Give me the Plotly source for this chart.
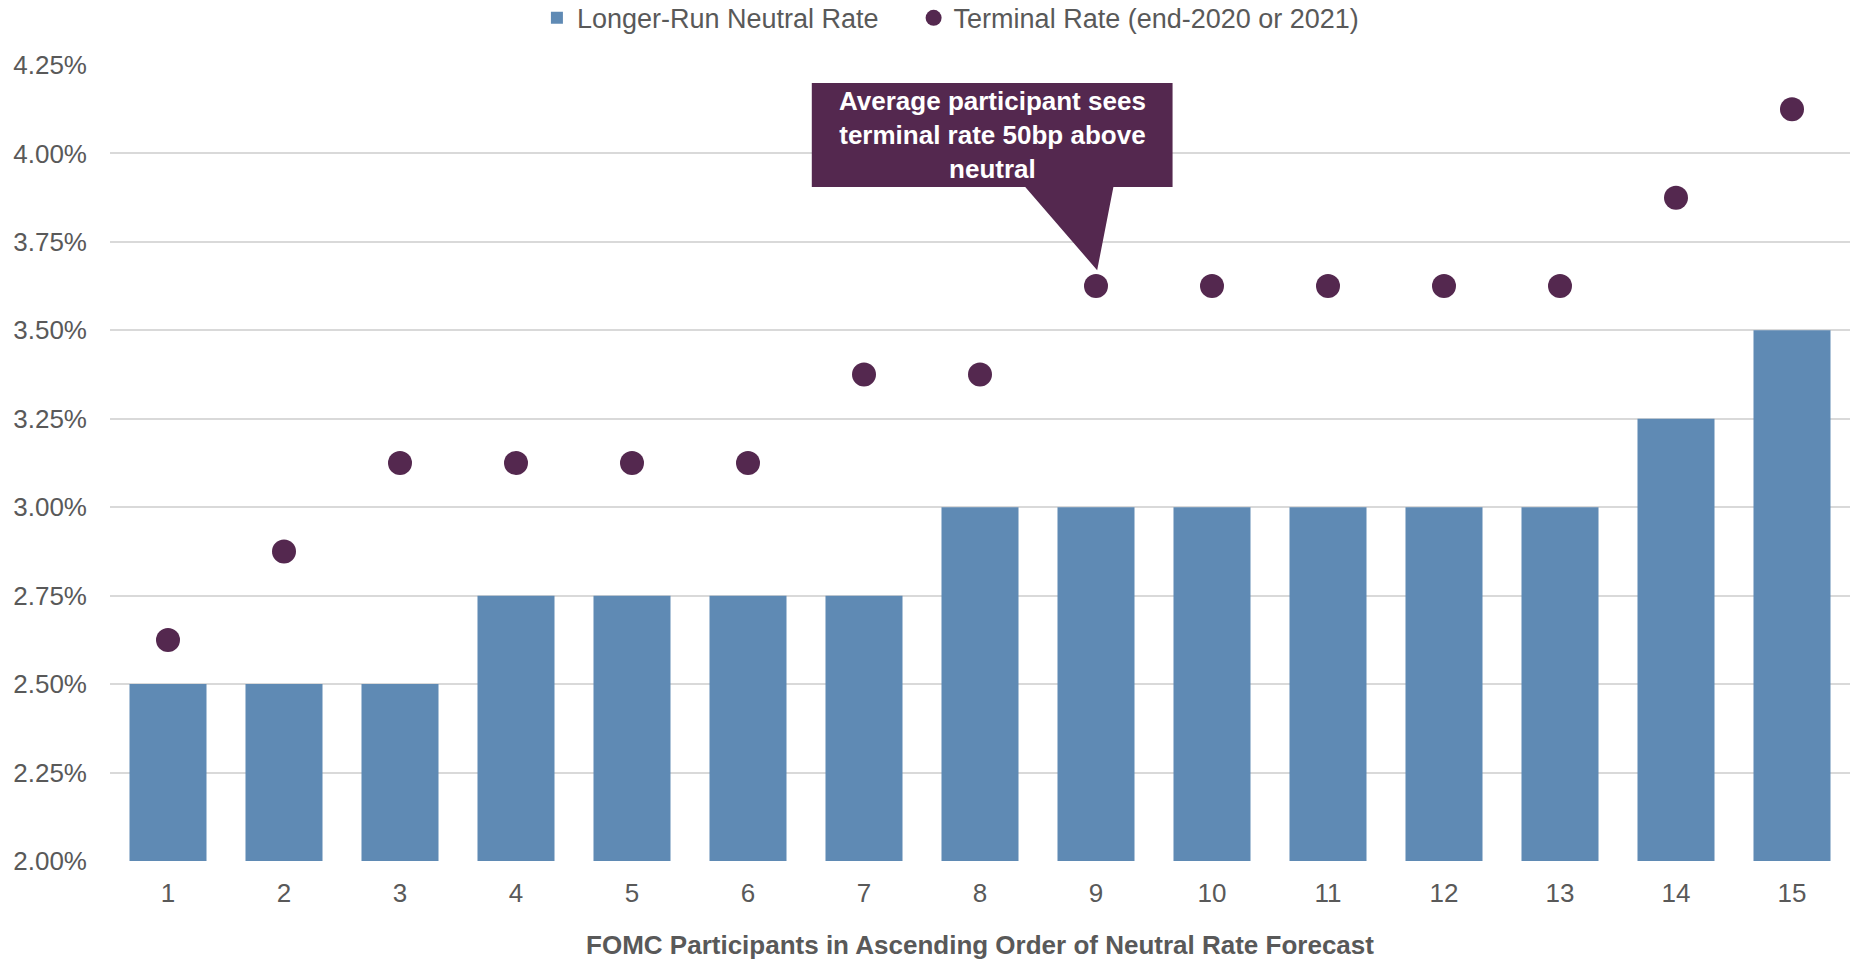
import plotly.graph_objects as go

participants = list(range(1, 16))
neutral_rate = [2.50, 2.50, 2.50, 2.75, 2.75, 2.75, 2.75, 3.00, 3.00, 3.00, 3.00, 3.00, 3.00, 3.25, 3.50]
terminal_rate = [2.625, 2.875, 3.125, 3.125, 3.125, 3.125, 3.375, 3.375, 3.625, 3.625, 3.625, 3.625, 3.625, 3.875, 4.125]
y_ticks = [2.00, 2.25, 2.50, 2.75, 3.00, 3.25, 3.50, 3.75, 4.00, 4.25]
y_tick_labels = [f"{v:.2f}%" for v in y_ticks]

BAR = "#5F8AB4"
DOT = "#54284F"
TXT = "#595959"
FONT = "Liberation Sans, Arial, sans-serif"
NBSP = "\u00a0"

fig = go.Figure()
fig.add_trace(go.Bar(
    x=participants, y=[v - 2.0 for v in neutral_rate], base=2.0,
    name="Longer-Run Neutral Rate" + NBSP * 4,
    marker=dict(color=BAR, line=dict(width=0)),
))
fig.add_trace(go.Scatter(
    x=participants, y=terminal_rate, mode="markers",
    name="Terminal Rate (end-2020 or 2021)",
    marker=dict(color=DOT, size=24),
))

# Callout box with pointer to participant 9
fig.add_shape(
    type="path", xref="x", yref="y",
    path="M 6.55 4.199 L 9.66 4.199 L 9.66 3.905 L 9.15 3.905 L 9.01 3.67 L 8.39 3.905 L 6.55 3.905 Z",
    fillcolor=DOT, line=dict(width=0), layer="above",
)
fig.add_annotation(
    x=8.105, y=4.052, xref="x", yref="y",
    text="Average participant sees<br>terminal rate 50bp above<br>neutral",
    showarrow=False, align="center",
    font=dict(family=FONT, size=26, color="white", weight="bold"),
)

fig.update_layout(
    width=1852, height=963,
    margin=dict(l=110, r=2, t=65, b=102, autoexpand=False),
    paper_bgcolor="white", plot_bgcolor="white",
    bargap=0.336,
    font=dict(family=FONT, size=26, color=TXT),
    legend=dict(
        orientation="h", x=0.483, xanchor="center",
        y=0.981, yanchor="middle", yref="container",
        font=dict(family=FONT, size=27, color=TXT),
        itemsizing="trace", traceorder="normal",
    ),
    showlegend=True,
    xaxis=dict(
        range=[0.5, 15.5], tickmode="array", tickvals=participants,
        ticktext=[str(p) for p in participants],
        showgrid=False, zeroline=False, showline=False,
        ticks="", tickfont=dict(size=26, color=TXT), ticklabelstandoff=14,
        title=dict(
            text="<b>FOMC Participants in Ascending Order of Neutral Rate Forecast</b>",
            font=dict(family=FONT, size=26, color=TXT), standoff=28,
        ),
    ),
    yaxis=dict(
        range=[2.0, 4.25], tickmode="array", tickvals=y_ticks, ticktext=y_tick_labels,
        showgrid=True, gridcolor="#D9D9D9", gridwidth=1.5,
        zeroline=False, showline=False, ticks="",
        tickfont=dict(size=26, color=TXT), ticklabelstandoff=22,
    ),
)

fig.write_html("out.html")
